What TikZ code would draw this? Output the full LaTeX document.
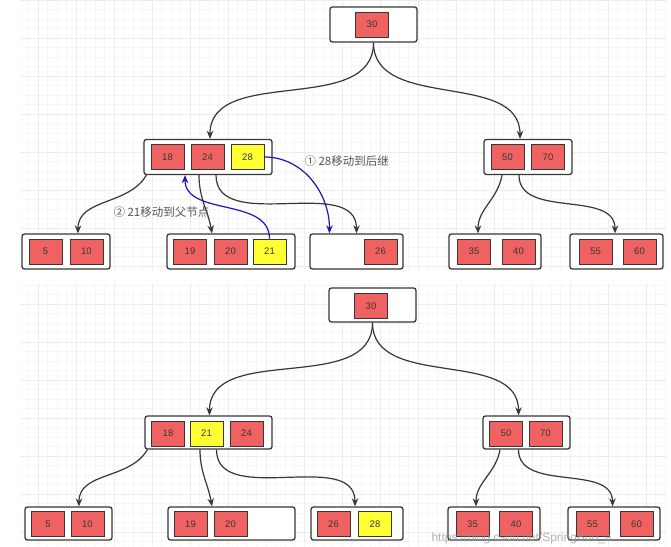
\documentclass[tikz,border=0pt]{standalone}
\usepackage{fontspec}
\setmainfont{Liberation Sans}
\newfontfamily\cjk{Noto Sans CJK SC}
\usetikzlibrary{arrows.meta}
\definecolor{keyred}{RGB}{240,98,98}
\definecolor{keyyellow}{RGB}{255,255,51}
\definecolor{edgegray}{RGB}{55,55,55}
\definecolor{moveblue}{RGB}{25,25,185}

\begin{document}
\begin{tikzpicture}[x=1pt,y=-1pt,
		>={Stealth[length=8pt,width=6.5pt]},
		box/.style={draw=edgegray,line width=1.3pt,rounded corners=2.5pt,fill=white,minimum height=35pt,inner sep=0pt},
		key/.style={draw=edgegray,line width=0.9pt,fill=keyred,minimum width=33pt,minimum height=25pt,inner sep=0pt,font=\fontsize{9.5}{9.5}\selectfont,text=edgegray},
		moved/.style={key,fill=keyyellow},
		link/.style={draw=edgegray,line width=1.2pt,->},
		shiftline/.style={draw=moveblue,line width=1.2pt,->},
		note/.style={font=\cjk\fontsize{11.5}{12}\selectfont,text=edgegray!85},
		gridfine/.style={draw=black!3.5,line width=0.4pt},
		gridmajor/.style={draw=black!7,line width=0.5pt}]
		\useasboundingbox (0,0) rectangle (671,546);
		\fill[white] (0,0) rectangle (671,546);
		\draw[gridfine,step=9.5pt] (20,0) grid (667,270);
		\draw[gridmajor,step=38pt] (20,0) grid (667,270);
		\draw[gridfine,step=9.5pt] (20,283) grid (667,546);
		\draw[gridmajor,step=38pt] (20,283) grid (667,546);

		\node[box,minimum width=87pt] (root1) at (373.5,24.5) {};
		\node[key] (r1k30) at (372,24.5) {30};
		\node[box,minimum width=128pt] (left1) at (208,157) {};
		\node[key] (l1k18) at (167.5,157) {18};
		\node[key] (l1k24) at (207.5,157) {24};
		\node[moved] (l1k28) at (247.5,157) {28};
		\node[box,minimum width=88pt] (right1) at (528,157) {};
		\node[key] (g1k50) at (507.5,157) {50};
		\node[key] (g1k70) at (548,157) {70};
		\node[box,minimum width=88pt] (leaf1a) at (66,251.5) {};
		\node[key] (a1k5) at (45.5,251.5) {5};
		\node[key] (a1k10) at (86.5,251.5) {10};
		\node[box,minimum width=128pt] (leaf1b) at (231,251.5) {};
		\node[key] (b1k19) at (190,251.5) {19};
		\node[key] (b1k20) at (230.5,251.5) {20};
		\node[moved] (b1k21) at (269.5,251.5) {21};
		\node[box,minimum width=93pt] (leaf1c) at (356.5,251.5) {};
		\node[key] (c1k26) at (380.5,251.5) {26};
		\node[box,minimum width=92pt] (leaf1d) at (495,251.5) {};
		\node[key] (d1k35) at (474,251.5) {35};
		\node[key] (d1k40) at (518.5,251.5) {40};
		\node[box,minimum width=93pt] (leaf1e) at (616.5,251.5) {};
		\node[key] (e1k55) at (595.5,251.5) {55};
		\node[key] (e1k60) at (639.5,251.5) {60};

		\draw[link] (root1.south) to[out=-90,in=90] ([xshift=2pt]left1.north);
		\draw[link] (root1.south) to[out=-90,in=90] ([xshift=-8pt]right1.north);
		\draw[link] ([xshift=3pt]left1.south west) to[out=-120,in=90] ([xshift=12pt]leaf1a.north);
		\draw[link] ([xshift=-9pt]left1.south) to[out=-90,in=100] ([xshift=-19pt]leaf1b.north);
		\draw[link] ([xshift=8pt]left1.south) to[out=-90,in=90] (leaf1c.north);
		\draw[link] ([xshift=-26pt]right1.south) to[out=-100,in=90] ([xshift=-17pt]leaf1d.north);
		\draw[link] ([xshift=-9pt]right1.south) to[out=-90,in=90] ([xshift=-1.5pt]leaf1e.north);
		\draw[shiftline] (l1k28.east) to[out=0,in=90] ([xshift=-27pt]leaf1c.north);
		\draw[shiftline] (b1k21.north) to[out=90,in=-90] ([xshift=-23pt]left1.south);
		\node[note,anchor=west] (note1) at (301,161) {① 28移动到后继};
		\node[note,anchor=west] (note2) at (110,212) {② 21移动到父节点};

		\node[box,minimum width=87pt,minimum height=34pt] (root2) at (372.5,305) {};
		\node[key] (r2k30) at (371,306) {30};
		\node[box,minimum width=127pt,minimum height=33pt] (left2) at (208.5,432.5) {};
		\node[key] (l2k18) at (168,433.5) {18};
		\node[moved] (l2k21) at (206.5,433.5) {21};
		\node[key] (l2k24) at (246.5,433.5) {24};
		\node[box,minimum width=87pt,minimum height=33pt] (right2) at (526.5,432.5) {};
		\node[key] (g2k50) at (506,433.5) {50};
		\node[key] (g2k70) at (545.5,433.5) {70};
		\node[box,minimum width=87pt,minimum height=33pt] (leaf2a) at (68.5,523.5) {};
		\node[key] (a2k5) at (48,524) {5};
		\node[key] (a2k10) at (87.5,524) {10};
		\node[box,minimum width=127pt,minimum height=33pt] (leaf2b) at (231.5,523.5) {};
		\node[key] (b2k19) at (190.5,524) {19};
		\node[key] (b2k20) at (230.5,524) {20};
		\node[box,minimum width=92pt,minimum height=33pt] (leaf2c) at (357,523.5) {};
		\node[key] (c2k26) at (333.5,524) {26};
		\node[moved] (c2k28) at (375,524) {28};
		\node[box,minimum width=92pt,minimum height=33pt] (leaf2d) at (494,523.5) {};
		\node[key] (d2k35) at (472.5,524) {35};
		\node[key] (d2k40) at (516,524) {40};
		\node[box,minimum width=92pt,minimum height=33pt] (leaf2e) at (614,523.5) {};
		\node[key] (e2k55) at (592.5,524) {55};
		\node[key] (e2k60) at (636.5,524) {60};

		\draw[link] (root2.south) to[out=-90,in=90] ([xshift=1pt]left2.north);
		\draw[link] (root2.south) to[out=-90,in=90] ([xshift=-8pt]right2.north);
		\draw[link] ([xshift=3pt]left2.south west) to[out=-120,in=90] ([xshift=10.5pt]leaf2a.north);
		\draw[link] ([xshift=-8.5pt]left2.south) to[out=-90,in=100] ([xshift=-19.5pt]leaf2b.north);
		\draw[link] ([xshift=8pt]left2.south) to[out=-90,in=90] ([xshift=-2pt]leaf2c.north);
		\draw[link] ([xshift=-26.5pt]right2.south) to[out=-100,in=90] ([xshift=-18pt]leaf2d.north);
		\draw[link] ([xshift=-8pt]right2.south) to[out=-90,in=90] ([xshift=-1.5pt]leaf2e.north);
		\node[font=\fontsize{12}{12}\selectfont,text=black!40,opacity=0.75,anchor=west] (mark) at (428,538.5) {https://blog.csdn.net/SpringBoo\_a};
	\end{tikzpicture}
\end{document}
